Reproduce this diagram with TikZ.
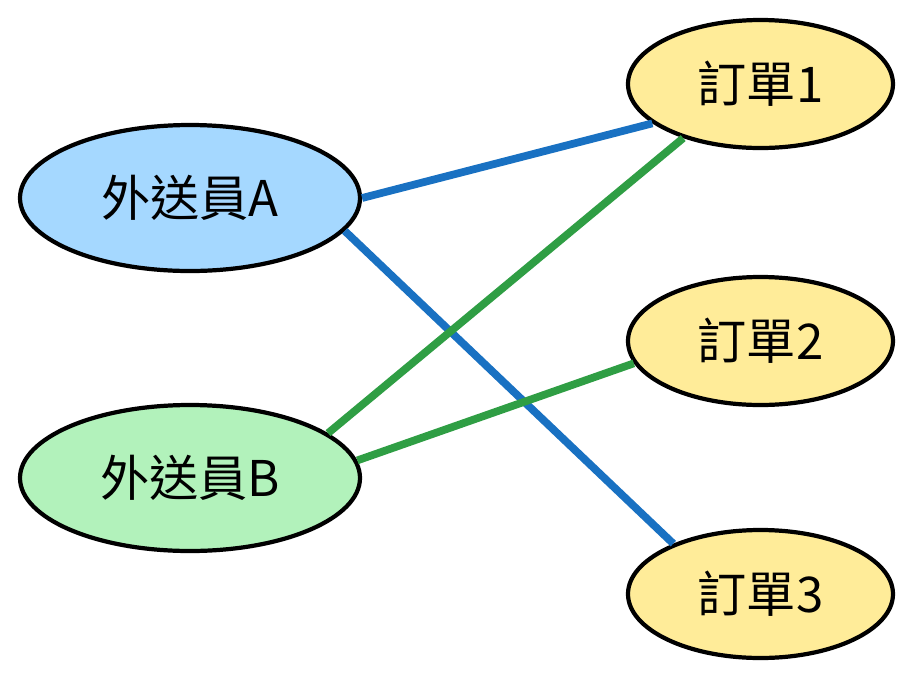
\documentclass[tikz,border=0pt]{standalone}
\usepackage{fontspec}
\newfontfamily\cjk{Noto Sans CJK TC}
\definecolor{riderA}{HTML}{A5D8FF}
\definecolor{riderB}{HTML}{B2F2BB}
\definecolor{order}{HTML}{FFEC99}
\definecolor{lineA}{HTML}{1971C2}
\definecolor{lineB}{HTML}{2F9E44}
\usetikzlibrary{shapes.geometric}
\begin{document}
\begin{tikzpicture}[rider/.style={ellipse, draw=black, line width=1.2pt, minimum width=3.4cm, minimum height=1.46cm, font=\cjk\fontsize{14}{16}\selectfont},
  order/.style={ellipse, draw=black, fill=order, line width=1.2pt, minimum width=2.65cm, minimum height=1.28cm, font=\cjk\fontsize{14}{16}\selectfont},
  link/.style={line width=2.2pt}]
\useasboundingbox (0,0) rectangle (9.14,6.77);

\node[rider, fill=riderA] (a) at (1.90,4.79) {外送員A};
\node[rider, fill=riderB] (b) at (1.90,1.99) {外送員B};
\node[order] (o1) at (7.605,5.93) {訂單1};
\node[order] (o2) at (7.605,3.36) {訂單2};
\node[order] (o3) at (7.605,0.83) {訂單3};

\draw[link, lineA] (a.east) -- (o1.200);
\draw[link, lineA] (a.-12) -- (o3.150);
\draw[link, lineB] (b.18) -- (o1.215);
\draw[link, lineB] (b.6) -- (o2.190);
\end{tikzpicture}
\end{document}
